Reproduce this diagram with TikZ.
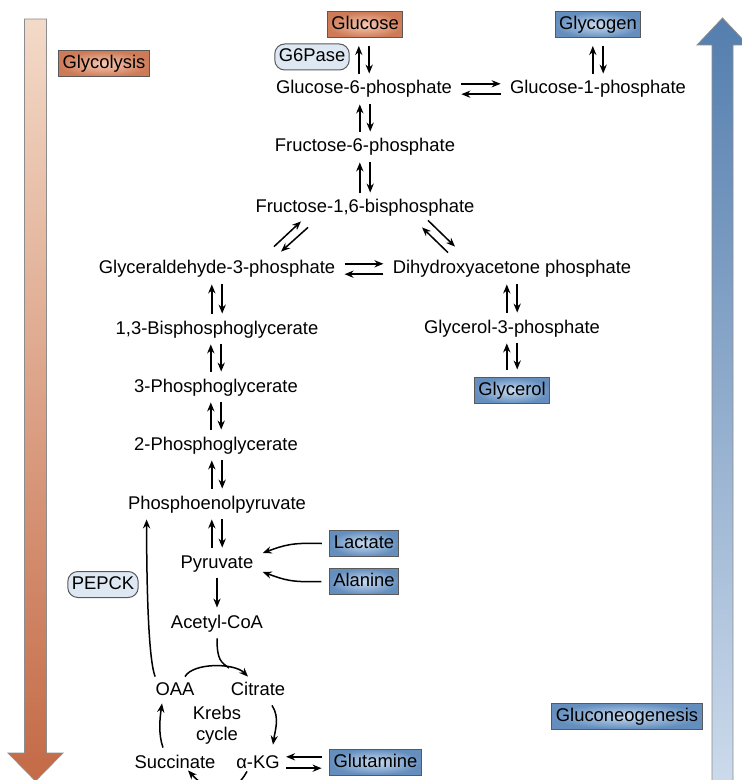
\documentclass[tikz,border=0pt]{standalone}
\usepackage{fontspec}
\setmainfont{Liberation Sans}
\usetikzlibrary{arrows.meta}

\definecolor{glyorange}{RGB}{196,106,70}
\definecolor{boxorange}{RGB}{206,122,86}
\definecolor{glyorangelt}{RGB}{246,200,178}
\definecolor{gngblue}{RGB}{84,126,174}
\definecolor{boxblue}{RGB}{100,142,190}
\definecolor{gngbluelt}{RGB}{200,219,240}
\definecolor{enzfill}{RGB}{222,232,243}
\definecolor{glytop}{RGB}{243,218,200}
\definecolor{gngbot}{RGB}{205,219,236}

\newlength{\eqgap}\setlength{\eqgap}{2.6pt}
% two opposite arrows, #1 above #2
\newcommand{\updown}[2]{%
  \draw[rx] ([xshift=-\eqgap]#2.north) -- ([xshift=-\eqgap]#2.north |- #1.south);
  \draw[rx] ([xshift=\eqgap]#2.north |- #1.south) -- ([xshift=\eqgap]#2.north);}
% two opposite arrows, #1 left of #2
\newcommand{\leftright}[2]{%
  \draw[rx,hx] ([yshift=\eqgap]#1.east) -- ([yshift=\eqgap]#1.east -| #2.west);
  \draw[rx,hx] ([yshift=-\eqgap]#1.east -| #2.west) -- ([yshift=-\eqgap]#1.east);}

\begin{document}
\begin{tikzpicture}
	[
	x=0.5pt, y=-0.5pt,
	>={Stealth[length=4.5pt,width=3.6pt]},
	every node/.style={font=\fontsize{9.2}{10.5}\selectfont},
	met/.style={inner sep=3pt, text height=7pt, text depth=2pt},
	tagbox/.style={draw=black!65, line width=0.5pt, inner sep=2pt, outer sep=4pt, text height=7pt, text depth=2pt},
	orgbox/.style={tagbox, inner color=glyorangelt, outer color=boxorange},
	bluebox/.style={tagbox, inner color=gngbluelt, outer color=boxblue},
	enz/.style={tagbox, rounded corners=5pt, fill=enzfill, outer sep=0pt},
	rx/.style={->, line width=0.75pt},
	hx/.style={shorten <=1.5pt, shorten >=1.5pt}
	]
	\useasboundingbox (0,0) rectangle (741,780);
	
	% big direction arrows
	\shadedraw[top color=glytop, bottom color=glyorange, draw=black!45, line width=0.4pt]
		(24.5,19) -- (46.5,19) -- (46.5,753) -- (63,753) -- (35.5,781) -- (8,753) -- (24.5,753) -- cycle;
	\shadedraw[top color=gngblue, bottom color=gngbot, draw=black!45, line width=0.4pt]
		(722.5,18) -- (748,45) -- (733,45) -- (733,790) -- (712,790) -- (712,45) -- (697,45) -- cycle;
	
	\node[orgbox, outer sep=0pt](glyc) at (104,64){Glycolysis};
	\node[bluebox, outer sep=0pt](gng) at (627,716){Gluconeogenesis};
	
	\node[orgbox](glc) at (365,25){Glucose};
	\node[bluebox](gly) at (598,25){Glycogen};
	\node[enz](g6pase) at (312,57){G6Pase};
	\node[met](g6p) at (364,89){Glucose-6-phosphate};
	\node[met](g1p) at (598,89){Glucose-1-phosphate};
	\node[met](f6p) at (365,147){Fructose-6-phosphate};
	\node[met](f16bp) at (365,208){Fructose-1,6-bisphosphate};
	\node[met](g3p) at (217,269){Glyceraldehyde-3-phosphate};
	\node[met](dhap) at (512,269){Dihydroxyacetone phosphate};
	\node[met](bpg) at (217,329){1,3-Bisphosphoglycerate};
	\node[met](gol3p) at (512,328){Glycerol-3-phosphate};
	\node[bluebox](gol) at (512,390.5){Glycerol};
	\node[met](pg3) at (216,387){3-Phosphoglycerate};
	\node[met](pg2) at (216,445){2-Phosphoglycerate};
	\node[met](pep) at (217,504){Phosphoenolpyruvate};
	\node[met](pyr) at (217,563){Pyruvate};
	\node[bluebox](lac) at (364,543.5){Lactate};
	\node[bluebox](ala) at (364,581.5){Alanine};
	\node[enz](pepck) at (103,584.5){PEPCK};
	\node[met](acoa) at (217,623){Acetyl-CoA};
	\node[met](oaa) at (175,690){OAA};
	\node[met](cit) at (258,690){Citrate};
	\node[align=center](krebs) at (217,725){Krebs\\cycle};
	\node[met](suc) at (175,763){Succinate};
	\node[met](akg) at (258,763){α-KG};
	\node[bluebox](glu) at (375.5,762){Glutamine};
	
	\coordinate (join) at (229,668);
	
	\updown{glc}{g6p}
	\updown{gly}{g1p}
	\leftright{g6p}{g1p}
	\updown{g6p}{f6p}
	\updown{f6p}{f16bp}
	
	\draw[rx] ([shift={(57,-7)}]g3p.north) -- ([shift={(-64,-2)}]f16bp.south);
	\draw[rx] ([shift={(-57,4)}]f16bp.south) -- ([shift={(64,-2)}]g3p.north);
	\draw[rx] ([shift={(63,-3)}]f16bp.south) -- ([shift={(-57,-7)}]dhap.north);
	\draw[rx] ([shift={(-64,-1)}]dhap.north) -- ([shift={(57,4)}]f16bp.south);
	
	\leftright{g3p}{dhap}
	\updown{g3p}{bpg}
	\updown{bpg}{pg3}
	\updown{pg3}{pg2}
	\updown{pg2}{pep}
	\updown{pep}{pyr}
	\updown{dhap}{gol3p}
	\updown{gol3p}{gol}
	
	\draw[rx] (lac.west) .. controls +(-30,-1) and +(22,-8) .. ([shift={(3,-10)}]pyr.east);
	\draw[rx] (ala.west) .. controls +(-30,1) and +(22,8) .. ([shift={(3,9)}]pyr.east);
	\draw[rx] (pyr) -- (acoa);
	
	% Krebs cycle
	\draw[rx] ([shift={(10,2)}]oaa.north) .. controls +(8,-14) and +(-14,-14) .. ([shift={(-10,2)}]cit.north);
	\draw[line width=0.75pt] (acoa.south) .. controls +(0,22) and +(-8,-6) .. (join);
	\draw[rx] ([shift={(6,2)}]oaa.north west) .. controls +(-8,-20) and +(0,40) .. ([xshift=12.5pt]pep.south west);
	\draw[rx] ([xshift=7pt]cit.south) .. controls +(8,12) and +(2,-14) .. ([shift={(15,-3)}]akg.north);
	\draw[rx] ([xshift=-6pt]suc.north) .. controls +(-5,-14) and +(-2,14) .. ([shift={(-13,-2)}]oaa.south);
	\draw[rx] ([shift={(-11,-7)}]akg.south) .. controls +(-14,26) and +(22,24) .. ([shift={(13,-8)}]suc.south);
	
	\draw[rx] ([yshift=\eqgap]glu.west) -- ([yshift=\eqgap]glu.west -| akg.east);
	\draw[rx] ([yshift=-\eqgap]akg.east) -- ([yshift=-\eqgap]akg.east -| glu.west);
\end{tikzpicture}
\end{document}
